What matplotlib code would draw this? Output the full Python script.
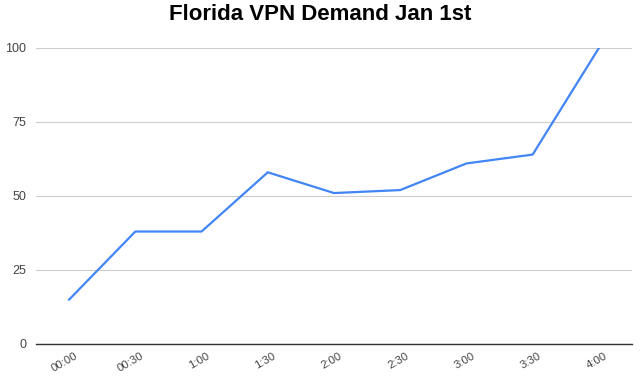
import matplotlib
matplotlib.use("Agg")
import matplotlib.pyplot as plt
from matplotlib.transforms import ScaledTranslation

times = ["00:00", "00:30", "1:00", "1:30", "2:00", "2:30", "3:00", "3:30", "4:00"]
demand = [15, 38, 38, 58, 51, 52, 61, 64, 100]
yticks = [0, 25, 50, 75, 100]

plt.rcParams['font.family'] = ['Liberation Sans', 'DejaVu Sans']

fig = plt.figure(figsize=(6.4, 3.78), dpi=100)
ax = fig.add_axes([36/640, 34/378, (632-36)/640, (344-48)/378])

x = list(range(len(times)))
ax.plot(x, demand, color="#4285F4", linewidth=1.6, solid_joinstyle='round')

ax.set_xlim(-0.5, len(times) - 0.5)
ax.set_ylim(0, 100)
ax.set_yticks(yticks)
ax.set_yticklabels([str(v) for v in yticks], color="#444444", fontsize=9)
ax.set_xticks(x)
ax.set_xticklabels(times, rotation=30, ha='right', rotation_mode='anchor',
                   color="#444444", fontsize=8.2)
ax.tick_params(axis='both', length=0)
ax.tick_params(axis='y', pad=7)
ax.tick_params(axis='x', pad=5)
offset = ScaledTranslation(5/100, 0, fig.dpi_scale_trans)
for lbl in ax.get_xticklabels():
    lbl.set_transform(lbl.get_transform() + offset)

ax.grid(axis='y', color="#cccccc", linewidth=0.8)
ax.set_axisbelow(True)
for s in ['top', 'right', 'left']:
    ax.spines[s].set_visible(False)
ax.spines['bottom'].set_color("#333333")
ax.spines['bottom'].set_linewidth(1.0)

fig.text(0.5, 1 - 15/378, "Florida VPN Demand Jan 1st", ha='center', va='center',
         fontsize=16, fontweight='bold', color="#000000")

fig.savefig("out.png", dpi=100, facecolor="white")
